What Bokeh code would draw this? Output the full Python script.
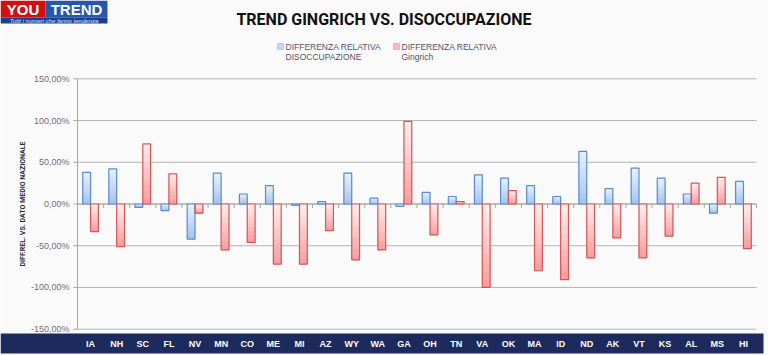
import math
from bokeh.plotting import figure
from bokeh.models import Range1d, Label, BoxAnnotation, ColumnDataSource
from bokeh.transform import dodge
from bokeh.core.properties import value
from bokeh.embed import file_html
from bokeh.resources import INLINE

# ---------------- data ----------------
states = ["IA", "NH", "SC", "FL", "NV", "MN", "CO", "ME", "MI", "AZ", "WY", "WA", "GA",
          "OH", "TN", "VA", "OK", "MA", "ID", "ND", "AK", "VT", "KS", "AL", "MS", "HI"]
disoccupazione = [38, 42, -4, -8, -42, 37, 12, 22, -1.5, 3, 37, 7, -3,
                  14, 9, 35, 31, 22, 9, 63, 18.5, 43, 31, 12, -11, 27]
gingrich = [-33, -51, 72, 36, -11, -55, -46, -72, -72, -32, -67, -55, 99,
            -37, 3, -100, 16, -80, -90.5, -64.5, -40.5, -64.5, -38.5, 25, 32, -53.5]
y_ticks = [-150, -100, -50, 0, 50, 100, 150]
y_tick_labels = ["-150,00%", "-100,00%", "-50,00%", "0,00%", "50,00%", "100,00%", "150,00%"]
series_names = ["DIFFERENZA  RELATIVA\nDISOCCUPAZIONE", "DIFFERENZA  RELATIVA\nGingrich"]
title_text = "TREND GINGRICH VS. DISOCCUPAZIONE"
y_label = "DIFF.REL. VS. DATO MEDIO NAZIONALE"
logo_words = ["YOU", "TREND"]
logo_tagline = "Tutti i numeri che fanno tendenza"

# ---------------- layout constants (pixels inside the figure) ----------------
W, H = 768, 355
PX_L, PX_R = 77, 756          # plotting area left/right
PY_TOP, PY_BOT = 78.3, 328.7  # pixel rows of +150 and -150
BAND_TOP, BAND_BOT, BAND_R = 333, 353, 763

n = len(states)
cat_px = (PX_R - PX_L) / n
ppu = (PY_BOT - PY_TOP) / (y_ticks[-1] - y_ticks[0])
y_lo = y_ticks[0] - (H - PY_BOT) / ppu
y_hi = y_ticks[-1] + PY_TOP / ppu


def data_x(px):
    return (px - PX_L) / cat_px


def data_y(py):
    return y_hi - py / ppu


BG = "#fafafa"
NAVY = "#1c2a5d"
GRID = "#b5b5b5"
AXIS = "#a6a6a6"

xs = [i + 0.5 for i in range(n)]
src = ColumnDataSource(dict(x=xs, states=states, disocc=disoccupazione, ging=gingrich,
                            sep=[i + 1 for i in range(n)]))

p = figure(x_range=Range1d(data_x(0), data_x(W)), y_range=Range1d(y_lo, y_hi),
           width=W, height=H, output_backend="svg", toolbar_location=None,
           x_axis_location=None, y_axis_location=None,
           min_border=0, min_border_left=0, min_border_right=0,
           min_border_top=0, min_border_bottom=0,
           background_fill_color=BG, border_fill_color=BG, outline_line_color=None)
p.grid.visible = False

# navy category band
p.add_layout(BoxAnnotation(top=data_y(BAND_TOP), bottom=data_y(BAND_BOT), right=data_x(BAND_R),
                           fill_color=NAVY, fill_alpha=1, line_color=None, level="underlay"))

# horizontal grid lines
grid_src = ColumnDataSource(dict(y=y_ticks, lab=y_tick_labels))
p.segment(x0=0, x1=n, y0="y", y1="y", source=grid_src, line_color=GRID, line_width=1)
# y axis line + ticks + labels
p.segment(x0=0, x1=0, y0=y_ticks[0], y1=y_ticks[-1], line_color=AXIS, line_width=1)
p.segment(x0=data_x(PX_L - 4), x1=0, y0="y", y1="y", source=grid_src,
          line_color=AXIS, line_width=1)
p.text(x=data_x(PX_L - 8), y="y", text="lab", source=grid_src, text_align="right",
       text_baseline="middle", text_font=value("Liberation Sans"), text_font_size="9px",
       text_color="#6e6e78")
p.text(x=data_x(22), y=0, text=[y_label], angle=math.pi / 2, text_align="center",
       text_baseline="middle", text_font=value("Roboto"),
       text_font_style="bold", text_font_size="7px", text_color="#2a2a3a")

# zero line with category separators
p.segment(x0=0, x1=n, y0=0, y1=0, line_color=AXIS, line_width=1)
p.segment(x0="sep", x1="sep", y0=0, y1=-4 / ppu, source=src, line_color=AXIS, line_width=1)

# bars: vertical gradient (light at top) built from slices of each bar, then outline
K = 10


def mix(c1, c2, t):
    a = [int(c1[i:i + 2], 16) for i in (1, 3, 5)]
    b = [int(c2[i:i + 2], 16) for i in (1, 3, 5)]
    return "#%02x%02x%02x" % tuple(round(a[k] + (b[k] - a[k]) * t) for k in range(3))


def gradient_source(values, light, dark):
    d = dict(x=[], top=[], bottom=[], color=[])
    for xv, v in zip(xs, values):
        t_, b_ = max(v, 0), min(v, 0)
        for j in range(K):
            d["x"].append(xv)
            d["top"].append(t_ - (t_ - b_) * j / K)
            d["bottom"].append(t_ - (t_ - b_) * (j + 1) / K)
            d["color"].append(mix(light, dark, (j + 0.5) / K))
    return ColumnDataSource(d)


blue_g = gradient_source(disoccupazione, "#eaf2fd", "#a3c2ee")
red_g = gradient_source(gingrich, "#fff0f0", "#f59c9c")
p.vbar(x=dodge("x", -0.15), top="top", bottom="bottom", width=0.3, source=blue_g,
       fill_color="color", line_color="color", line_width=0.5)
p.vbar(x=dodge("x", 0.15), top="top", bottom="bottom", width=0.3, source=red_g,
       fill_color="color", line_color="color", line_width=0.5)
r_blue = p.vbar(x=dodge("x", -0.15), top="disocc", width=0.3, source=src,
                fill_color=None, line_color="#5a8bd0", line_width=1.2)
r_red = p.vbar(x=dodge("x", 0.15), top="ging", width=0.3, source=src,
               fill_color=None, line_color="#d65658", line_width=1.2)

# category labels in the band
p.text(x="x", y=data_y((BAND_TOP + BAND_BOT) / 2), text="states", source=src,
       text_align="center", text_baseline="middle", text_font=value("Liberation Sans"),
       text_font_style="bold", text_font_size="9px", text_color="white")


def scr(px_x, px_y):
    return dict(x=px_x, y=H - px_y, x_units="screen", y_units="screen")


def box(l, t, r, b, **kw):
    return BoxAnnotation(left=l, right=r, top=H - t, bottom=H - b,
                         left_units="screen", right_units="screen",
                         top_units="screen", bottom_units="screen", **kw)


# legend (manual)
leg_fill = ["#c6d9f4", "#f9baba"]
leg_line = ["#5a8bd0", "#d65658"]
leg_x = [277, 393]
for lx, name, fc, lc in zip(leg_x, series_names, leg_fill, leg_line):
    p.add_layout(box(lx, 43, lx + 6, 49, fill_color=fc, fill_alpha=1, line_color=lc,
                     line_width=1))
    p.add_layout(Label(**scr(lx + 8, 41), text=name, text_baseline="top", text_align="left",
                       text_font="Liberation Sans", text_font_size="8.5px",
                       text_color="#55526a", text_line_height=1.05))

# title
p.add_layout(Label(**scr(383.5, 18.5), text=title_text, text_align="center",
                   text_baseline="middle", text_font="Roboto",
                   text_font_style="bold", text_font_size="16px", text_color="#111111"))

# logo
p.add_layout(box(0, 0, 45, 17, fill_color="#d01010", fill_alpha=1, line_color=None))
p.add_layout(box(45, 0, 107, 17, fill_color="#2456b0", fill_alpha=1, line_color=None))
p.add_layout(box(0, 17, 107, 23, fill_color="#1b3f90", fill_alpha=1, line_color=None))
p.add_layout(Label(**scr(22.5, 9), text=logo_words[0], text_align="center",
                   text_baseline="middle", text_font="Liberation Sans",
                   text_font_style="bold", text_font_size="15px", text_color="white"))
p.add_layout(Label(**scr(76, 9), text=logo_words[1], text_align="center",
                   text_baseline="middle", text_font="Liberation Sans",
                   text_font_style="bold", text_font_size="15px", text_color="white"))
p.add_layout(Label(**scr(53.5, 20), text=logo_tagline, text_align="center",
                   text_baseline="middle", text_font="Liberation Sans",
                   text_font_style="italic", text_font_size="6px", text_color="#dfe8ff"))

open("out.html", "w").write(file_html(p, INLINE))
